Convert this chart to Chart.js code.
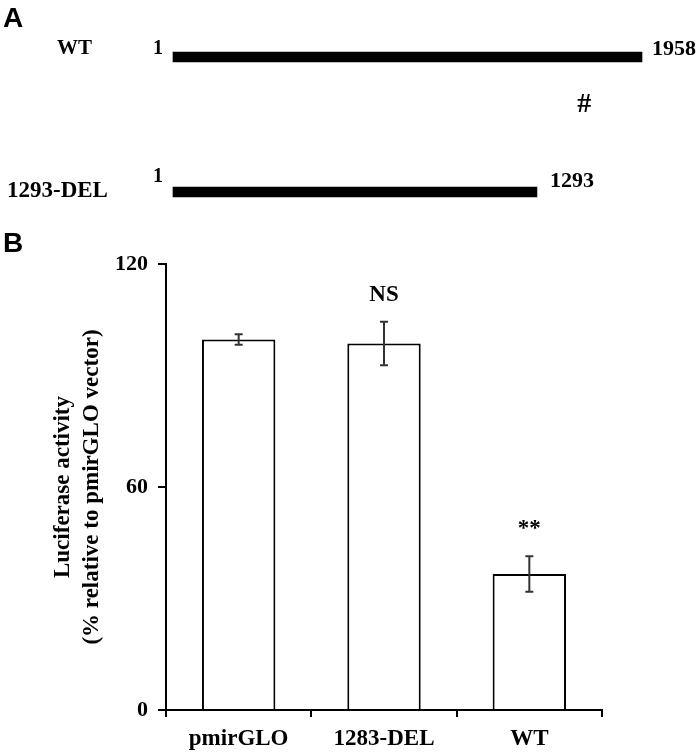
<!DOCTYPE html>
<html>
<head>
<meta charset="utf-8">
<script src="https://cdn.jsdelivr.net/npm/chart.js@4.4.0/dist/chart.umd.min.js"></script>
<style>
  html, body { margin: 0; padding: 0; background: #fff; }
  #wrap { position: relative; width: 700px; height: 754px; }
  #wrap canvas { position: absolute; left: 0; top: 0; }
</style>
</head>
<body>
<div id="wrap">
  <canvas id="panel-b" width="700" height="754"></canvas>
  <canvas id="panel-a" width="700" height="220"></canvas>
</div>
<script>
// panel A: reporter constructs
const constructs = ['WT', '1293-DEL']
const constructStart = [1, 1]
const constructEnd = [1958, 1293]
// line length as drawn, in % of the WT line (the schematic is not to scale)
const drawnLength = [100, 77.6]
const siteMark = '#'
const sitePos = { x: 87.7, row: 0.33 }

// panel B: luciferase assay
const groups = ['pmirGLO', '1283-DEL', 'WT']
const activity = [99.7, 98.6, 36.6]
const activityErr = [1.4, 5.85, 4.8]
const significance = ['', 'NS', '**']
const yTicks = [0, 60, 120]

const serif = "'Liberation Serif', 'Times New Roman', serif"
const sans = "'Liberation Sans', Arial, sans-serif"

const constructLabels = {
  id: 'constructLabels',
  afterDatasetsDraw(chart) {
    const { ctx, scales: { x, y } } = chart
    // per-row text placement, as laid out in the figure
    const nameX = [57, 7]
    const nameDy = [-3, 5]
    const nameSize = [21, 23]
    const startDy = [-3, -10]
    const endDy = [-2, -5]
    const endGap = [10, 13]
    ctx.save()
    ctx.fillStyle = '#000'
    ctx.textBaseline = 'alphabetic'
    constructs.forEach((name, i) => {
      const cy = y.getPixelForValue(i)
      ctx.font = `bold ${nameSize[i]}px ${serif}`
      ctx.textAlign = 'left'
      ctx.fillText(name, nameX[i], cy + nameDy[i])
      ctx.font = `bold 20px ${serif}`
      ctx.textAlign = 'right'
      ctx.fillText(String(constructStart[i]), x.getPixelForValue(0) - 10, cy + startDy[i])
      ctx.font = `bold 22px ${serif}`
      ctx.textAlign = 'left'
      ctx.fillText(String(constructEnd[i]), x.getPixelForValue(drawnLength[i]) + endGap[i], cy + endDy[i])
    })
    ctx.font = `bold 28px ${serif}`
    ctx.textAlign = 'center'
    ctx.fillText(siteMark, x.getPixelForValue(sitePos.x), y.getPixelForValue(sitePos.row) + 10)
    ctx.font = `bold 28px ${sans}`
    ctx.textAlign = 'left'
    ctx.fillText('A', 3, 27)
    ctx.restore()
  },
}

const errorBars = {
  id: 'errorBars',
  afterDatasetsDraw(chart) {
    const { ctx, scales: { y } } = chart
    const bars = chart.getDatasetMeta(0).data
    ctx.save()
    ctx.strokeStyle = '#333'
    ctx.lineWidth = 2
    ctx.fillStyle = '#000'
    ctx.textAlign = 'center'
    ctx.textBaseline = 'alphabetic'
    ctx.font = `bold 23px ${serif}`
    bars.forEach((bar, i) => {
      const hi = y.getPixelForValue(activity[i] + activityErr[i])
      const lo = y.getPixelForValue(activity[i] - activityErr[i])
      ctx.beginPath()
      ctx.moveTo(bar.x, hi)
      ctx.lineTo(bar.x, lo)
      ctx.moveTo(bar.x - 4, hi)
      ctx.lineTo(bar.x + 4, hi)
      ctx.moveTo(bar.x - 4, lo)
      ctx.lineTo(bar.x + 4, lo)
      ctx.stroke()
      if (significance[i]) ctx.fillText(significance[i], bar.x, hi - 21)
    })
    ctx.font = `bold 28px ${sans}`
    ctx.textAlign = 'left'
    ctx.fillText('B', 3, 252)
    ctx.restore()
  },
}

new Chart(document.getElementById('panel-a'), {
  type: 'bar',
  data: {
    labels: constructs,
    datasets: [
      {
        data: drawnLength.map((v) => [0, v]),
        backgroundColor: '#000',
        barThickness: 10,
        clip: false,
      },
    ],
  },
  options: {
    indexAxis: 'y',
    responsive: false,
    animation: false,
    layout: { padding: { left: 173, right: 58, top: 57, bottom: 28 } },
    scales: {
      x: { display: false, min: 0, max: 100 },
      y: { display: false, offset: false },
    },
    plugins: { legend: { display: false }, tooltip: { enabled: false } },
  },
  plugins: [constructLabels],
})

new Chart(document.getElementById('panel-b'), {
  type: 'bar',
  data: {
    labels: groups,
    datasets: [
      {
        data: activity,
        backgroundColor: '#fff',
        borderColor: '#000',
        borderWidth: 2,
        categoryPercentage: 1,
        barPercentage: 0.505,
      },
    ],
  },
  options: {
    responsive: false,
    animation: false,
    layout: { padding: { left: 0, right: 98, top: 264, bottom: 0 } },
    scales: {
      x: {
        grid: { drawOnChartArea: false, tickLength: 7, color: '#000', lineWidth: 2, offset: true },
        border: { display: true, color: '#000', width: 2 },
        ticks: {
          color: '#000',
          font: { family: serif, size: 23, weight: 'bold' },
          padding: 8,
          maxRotation: 0,
          autoSkip: false,
        },
        afterFit: (s) => {
          s.height = 44
          s.paddingLeft = 0
          s.paddingRight = 0
        },
      },
      y: {
        min: 0,
        max: 120,
        afterBuildTicks: (s) => {
          s.ticks = yTicks.map((v) => ({ value: v }))
        },
        grid: { drawOnChartArea: false, tickLength: 8, color: '#000', lineWidth: 2 },
        border: { display: true, color: '#000', width: 2 },
        ticks: { color: '#000', font: { family: serif, size: 22, weight: 'bold' }, padding: 10 },
        title: {
          display: true,
          text: ['Luciferase activity', '(% relative to pmirGLO vector)'],
          color: '#000',
          font: { family: serif, size: 23, weight: 'bold', lineHeight: 1.24 },
          padding: { top: 49, bottom: 0 },
        },
        afterFit: (s) => {
          s.width = 166
          s.paddingTop = 0
          s.paddingBottom = 0
        },
      },
    },
    plugins: { legend: { display: false }, tooltip: { enabled: false } },
  },
  plugins: [errorBars],
})
</script>
</body>
</html>
